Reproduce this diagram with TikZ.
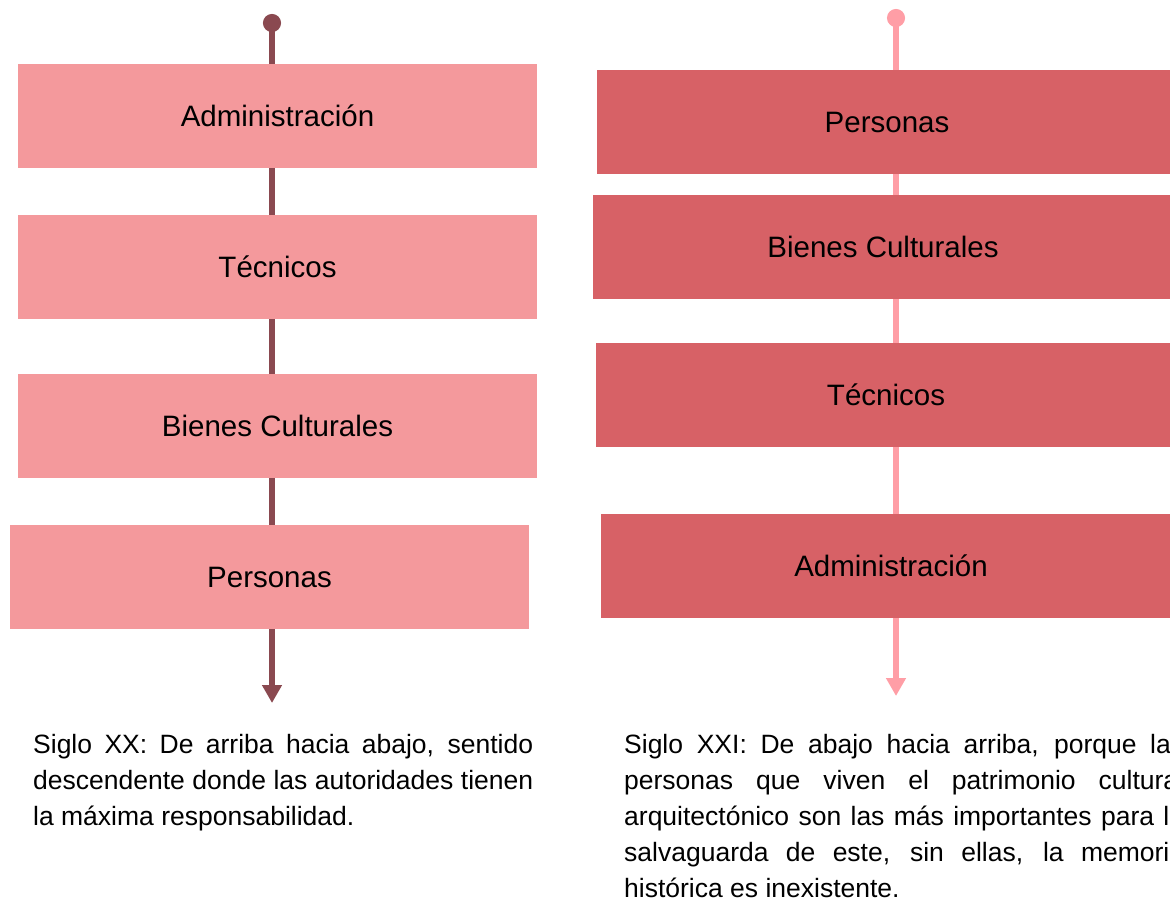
\documentclass[tikz,border=0pt]{standalone}
\usepackage{fontspec}
\setmainfont{Liberation Sans}
\usepackage{tikz}
\usetikzlibrary{arrows.meta,shapes,positioning}

\definecolor{oldfill}{HTML}{F4999C}
\definecolor{newfill}{HTML}{D76166}
\definecolor{oldline}{HTML}{8A4950}
\definecolor{newline}{HTML}{FF9EA6}

\begin{document}
\begin{tikzpicture}[x=1pt, y=-1pt]
            \tikzstyle{oldblock} = [rectangle, fill=oldfill, minimum width=519pt, minimum height=104pt, inner sep=0pt, font=\fontsize{29.5}{34}\selectfont]
            \tikzstyle{newblock} = [rectangle, fill=newfill, minimum width=580pt, minimum height=104pt, inner sep=0pt, font=\fontsize{29.5}{34}\selectfont]
            \tikzstyle{oldarrow} = [line width=6pt, oldline, {Circle[length=18pt]}-{Triangle[width=19pt,length=18pt]}]
            \tikzstyle{newarrow} = [line width=6pt, newline, {Circle[length=18pt]}-{Triangle[width=19pt,length=18pt]}]
            \tikzstyle{note} = [inner sep=0pt, anchor=north west, align=left, font=\fontsize{26.5}{36}\selectfont]

            \useasboundingbox (0,0) rectangle (1170,901);
            \clip (0,0) rectangle (1170,901);

            % siglo XX
            \coordinate (topold) at (272,14);
            \coordinate (endold) at (272,703);
            \draw [oldarrow] (topold) -- (endold);

            \node [oldblock] (adminold) at (277.5,116) {Administración};
            \node [oldblock] (tecold) at (277.5,267) {Técnicos};
            \node [oldblock] (bienesold) at (277.5,426) {Bienes Culturales};
            \node [oldblock] (persold) at (269.5,577) {Personas};

            % siglo XXI
            \coordinate (topnew) at (896,9);
            \coordinate (endnew) at (896,696);
            \draw [newarrow] (topnew) -- (endnew);

            \node [newblock] (persnew) at (887,122) {Personas};
            \node [newblock] (bienesnew) at (883,247) {Bienes Culturales};
            \node [newblock] (tecnew) at (886,395) {Técnicos};
            \node [newblock] (adminnew) at (891,566) {Administración};

            % textos
            \node [note] (textold) at (33,734) {%
                \makebox[500pt][s]{Siglo XX: De arriba hacia abajo, sentido}\\
                \makebox[500pt][s]{descendente donde las autoridades tienen}\\
                la máxima responsabilidad.};
            \node [note] (textnew) at (624,734) {%
                \makebox[560pt][s]{Siglo XXI: De abajo hacia arriba, porque las}\\
                \makebox[560pt][s]{personas que viven el patrimonio cultural}\\
                \makebox[560pt][s]{arquitectónico son las más importantes para la}\\
                \makebox[560pt][s]{salvaguarda de este, sin ellas, la memoria}\\
                histórica es inexistente.};
        \end{tikzpicture}
\end{document}
